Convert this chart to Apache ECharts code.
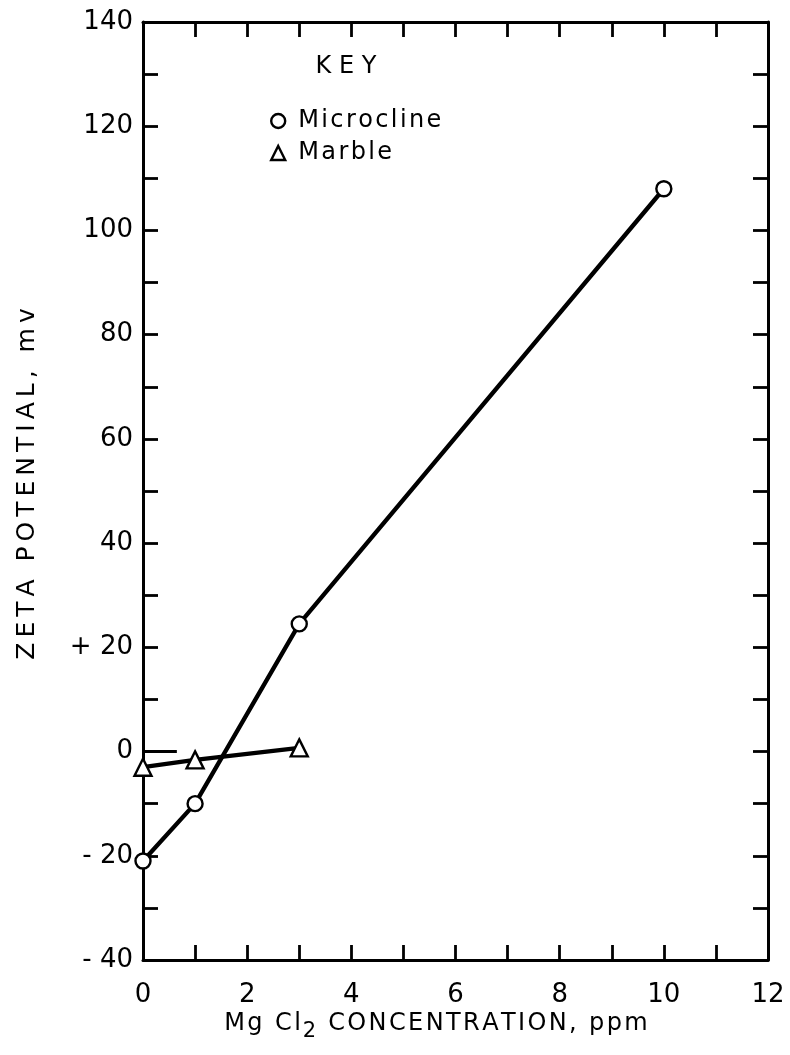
<!DOCTYPE html>
<html><head><meta charset="utf-8">
<script src="https://cdn.jsdelivr.net/npm/echarts@6/dist/echarts.min.js"></script>
<style>html,body{margin:0;padding:0;background:#fff}#c{width:790px;height:1055px}</style>
</head><body><div id="c"></div>
<script>
const microclineX = [0, 1, 3, 10];
const microclineY = [-21, -10, 24.5, 108];
const marbleX = [0, 1, 3];
const marbleY = [-3, -1.6, 0.7];
const yLabelValues = [140, 120, 100, 80, 60, 40, 20, 0, -20, -40];
const yLabelTexts = ['140', '120', '100', '80', '60', '40', '+ 20', '0', '- 20', '- 40'];
const xLabelValues = [0, 2, 4, 6, 8, 10, 12];

const FONT = 'DejaVu Sans';
const HAIR = '\u200A', THIN = '\u2009';
const sp = (s, c) => s.split('').join(c);
const chart = echarts.init(document.getElementById('c'), null, {renderer: 'canvas'});
const lineC = '#000';
const axisCommon = {
  axisLine: {show: true, onZero: false, lineStyle: {color: lineC, width: 3}},
  axisTick: {show: true, inside: true, length: 15, lineStyle: {color: lineC, width: 2.8}},
  splitLine: {show: false}
};
function pairs(xs, ys) { return xs.map((x, i) => [x, ys[i]]); }
chart.setOption({
  animation: false,
  backgroundColor: '#fff',
  grid: {left: 143, right: 22, top: 22, bottom: 95},
  legend: {
    orient: 'vertical', left: 265, top: 104, itemGap: 8,
    itemWidth: 14, itemHeight: 14,
    textStyle: {fontFamily: FONT, fontSize: 24, color: lineC, padding: [0, 0, 0, 8]},
    formatter: n => sp(n, HAIR),
    data: [
      {name: 'Microcline', icon: 'circle', itemStyle: {color: '#fff', borderColor: lineC, borderWidth: 2.4}},
      {name: 'Marble', icon: 'triangle', itemStyle: {color: '#fff', borderColor: lineC, borderWidth: 2.4}}
    ]
  },
  graphic: [
    {type: 'text', x: 346, y: 67, style: {text: 'K E Y', fontFamily: FONT, fontSize: 24, fill: lineC, align: 'center', verticalAlign: 'middle'}},
    {type: 'text', x: 27, y: 484, rotation: Math.PI / 2, style: {text: sp('ZETA POTENTIAL, mv', THIN), fontFamily: FONT, fontSize: 25, fill: lineC, align: 'center', verticalAlign: 'middle'}},
    {type: 'text', x: 436, y: 1024, style: {
      text: '{a|' + sp('Mg Cl', HAIR) + '}{s|2}{a|' + sp(' CONCENTRATION, ppm', HAIR) + '}',
      align: 'center', verticalAlign: 'middle',
      rich: {a: {fontFamily: FONT, fontSize: 24, color: lineC}, s: {fontFamily: FONT, fontSize: 21, color: lineC, padding: [16, 2, 0, 2]}}}}
  ],
  xAxis: [
    Object.assign({}, axisCommon, {
      type: 'value', min: 0, max: 12, interval: 1, position: 'bottom',
      axisLabel: {margin: 22, fontFamily: FONT, fontSize: 26, color: lineC,
        formatter: v => xLabelValues.indexOf(v) >= 0 ? String(v) : ''}
    }),
    Object.assign({}, axisCommon, {
      type: 'value', min: 0, max: 12, interval: 1, position: 'top', axisLabel: {show: false}
    })
  ],
  yAxis: [
    Object.assign({}, axisCommon, {
      type: 'value', min: -40, max: 140, interval: 10, position: 'left',
      axisLabel: {margin: 10, fontFamily: FONT, fontSize: 26, color: lineC,
        formatter: v => { const i = yLabelValues.indexOf(v); return i >= 0 ? yLabelTexts[i] : ''; }}
    }),
    Object.assign({}, axisCommon, {
      type: 'value', min: -40, max: 140, interval: 10, position: 'right', axisLabel: {show: false}
    })
  ],
  series: [
    {
      name: 'Microcline', type: 'line', data: pairs(microclineX, microclineY),
      symbol: 'circle', symbolSize: 15, z: 3,
      lineStyle: {color: lineC, width: 4.3},
      itemStyle: {color: '#fff', borderColor: lineC, borderWidth: 2.4}
    },
    {
      name: 'Marble', type: 'line', data: pairs(marbleX, marbleY),
      symbol: 'triangle', symbolSize: 17, z: 3,
      lineStyle: {color: lineC, width: 4.3},
      itemStyle: {color: '#fff', borderColor: lineC, borderWidth: 2.4},
      markLine: {silent: true, symbol: 'none', label: {show: false},
        lineStyle: {color: lineC, width: 2.8, type: 'solid'},
        data: [[{coord: [0, 0]}, {coord: [0.65, 0]}]]}
    }
  ]
});
</script></body></html>
